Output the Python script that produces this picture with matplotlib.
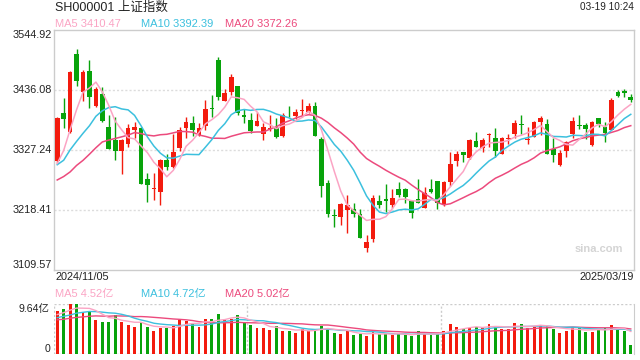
import numpy as np
import pandas as pd
import matplotlib
matplotlib.use('Agg')
import matplotlib.pyplot as plt

# 上证指数 日K 2024/11/05 - 2025/03/19
open_ = [3307.8, 3394.9, 3360.4, 3501.4, 3433.0, 3470.5, 3407.1, 3428.8, 3368.9, 3345.3,
         3325.9, 3338.1, 3364.0, 3367.1, 3274.6, 3256.5, 3251.6, 3309.1, 3295.8, 3330.3,
         3367.7, 3376.2, 3354.4, 3371.3, 3403.9, 3490.5, 3416.7, 3433.0, 3443.3, 3390.1,
         3381.7, 3370.7, 3356.2, 3365.3, 3368.4, 3353.1, 3394.9, 3388.9, 3398.5, 3396.7,
         3407.1, 3347.7, 3266.8, 3209.3, 3205.1, 3218.4, 3219.6, 3211.1, 3150.0, 3165.8,
         3234.7, 3237.8, 3228.0, 3255.9, 3256.5, 3234.7, 3237.8, 3222.5, 3256.5, 3271.0,
         3227.4, 3269.7, 3307.8, 3323.6, 3312.7, 3343.5, 3330.3, 3355.0, 3348.4, 3320.5,
         3347.2, 3356.8, 3373.8, 3345.3, 3350.2, 3378.0, 3374.4, 3328.5, 3300.0, 3325.9,
         3356.2, 3372.5, 3372.5, 3336.3, 3384.7, 3369.5, 3363.5, 3431.9, 3434.8, 3423.9]
high = [3387.0, 3421.0, 3470.5, 3510.4, 3472.3, 3489.9, 3442.0, 3441.0, 3390.7, 3386.5,
        3346.6, 3374.9, 3378.5, 3369.5, 3284.9, 3284.9, 3310.3, 3319.4, 3356.2, 3368.4,
        3386.5, 3388.9, 3376.7, 3417.9, 3426.4, 3495.4, 3437.3, 3465.1, 3443.3, 3402.1,
        3394.9, 3396.7, 3375.6, 3390.7, 3384.7, 3394.9, 3406.5, 3402.1, 3419.2, 3413.0,
        3414.3, 3351.3, 3272.8, 3219.6, 3230.5, 3245.6, 3230.5, 3219.6, 3173.0, 3245.6,
        3245.6, 3265.5, 3255.9, 3269.2, 3258.8, 3234.7, 3274.0, 3260.6, 3274.6, 3271.0,
        3271.0, 3324.1, 3325.4, 3323.6, 3347.7, 3359.9, 3349.0, 3357.5, 3366.6, 3351.3,
        3355.7, 3381.7, 3390.7, 3368.4, 3380.4, 3388.9, 3383.4, 3348.4, 3327.2, 3343.5,
        3386.5, 3390.7, 3375.6, 3379.8, 3384.7, 3378.5, 3421.0, 3436.0, 3437.3, 3428.2]
low = [3304.2, 3367.7, 3357.5, 3443.9, 3416.7, 3402.9, 3404.7, 3377.5, 3329.6, 3309.1,
       3283.7, 3333.2, 3348.4, 3266.1, 3232.9, 3236.5, 3227.4, 3290.9, 3294.0, 3325.9,
       3349.5, 3353.1, 3352.6, 3363.5, 3386.5, 3417.9, 3416.7, 3427.0, 3390.7, 3376.7,
       3358.6, 3370.7, 3345.3, 3361.7, 3348.4, 3351.3, 3386.5, 3382.9, 3386.5, 3394.9,
       3352.6, 3242.5, 3206.2, 3187.0, 3191.1, 3176.1, 3206.2, 3168.1, 3141.6, 3159.8,
       3221.4, 3215.3, 3221.4, 3242.5, 3230.5, 3203.3, 3230.5, 3222.5, 3248.7, 3220.2,
       3226.2, 3262.4, 3298.7, 3304.9, 3311.4, 3333.2, 3323.0, 3333.2, 3314.0, 3320.5,
       3338.1, 3348.4, 3356.2, 3338.1, 3350.2, 3354.4, 3319.9, 3304.9, 3298.2, 3314.0,
       3349.0, 3364.7, 3347.2, 3335.0, 3369.5, 3341.2, 3363.5, 3422.8, 3424.0, 3414.8]
close = [3385.8, 3384.0, 3468.7, 3452.9, 3468.7, 3423.9, 3437.9, 3380.4, 3329.6, 3325.9,
         3345.3, 3367.1, 3368.9, 3266.1, 3264.3, 3258.3, 3309.1, 3295.8, 3323.6, 3363.5,
         3378.0, 3363.5, 3366.6, 3401.6, 3402.1, 3423.9, 3430.6, 3459.6, 3393.8, 3387.6,
         3362.2, 3379.8, 3368.4, 3368.0, 3351.3, 3390.1, 3393.8, 3396.7, 3399.8, 3407.1,
         3352.6, 3262.4, 3211.6, 3207.5, 3229.2, 3227.4, 3211.6, 3168.1, 3160.9, 3239.6,
         3228.0, 3235.2, 3239.6, 3245.6, 3242.5, 3213.5, 3231.6, 3249.2, 3251.6, 3231.6,
         3268.6, 3301.8, 3319.9, 3318.7, 3345.3, 3333.2, 3345.3, 3356.2, 3324.8, 3348.4,
         3348.4, 3375.6, 3372.5, 3347.2, 3378.0, 3385.8, 3319.9, 3318.1, 3321.2, 3341.2,
         3380.4, 3371.3, 3365.8, 3378.0, 3373.8, 3358.6, 3417.9, 3425.7, 3430.1, 3417.9]
# 之前19个交易日的收盘价, 只用来算均线
prev_close = [3258.9, 3301.9, 3217.7, 3284.3, 3201.3, 3203.0, 3169.4, 3261.6, 3268.1, 3285.9,
              3302.8, 3280.3, 3299.7, 3322.2, 3286.4, 3266.2, 3279.8, 3272.0, 3310.2]

# 成交量 (亿)
volume = [8.21, 8.73, 9.64, 9.57, 8.02, 8.02, 6.60, 6.21, 6.21, 7.44,
          6.08, 5.63, 5.24, 6.21, 5.24, 4.46, 5.04, 5.04, 5.43, 6.60,
          6.40, 5.95, 5.24, 6.79, 6.79, 7.76, 6.60, 6.79, 7.57, 6.08,
          5.63, 5.04, 5.04, 4.66, 5.43, 4.46, 4.46, 4.07, 4.85, 4.46,
          4.85, 5.43, 4.98, 4.07, 3.88, 4.46, 3.69, 3.88, 3.49, 4.27,
          3.88, 3.88, 3.69, 3.88, 3.69, 3.49, 4.46, 3.88, 3.69, 3.88,
          4.46, 5.82, 5.24, 4.85, 5.04, 5.24, 5.24, 5.82, 5.24, 4.85,
          4.85, 6.01, 5.82, 5.04, 5.24, 5.63, 5.43, 4.85, 4.07, 4.46,
          5.24, 5.04, 4.27, 4.27, 4.66, 5.04, 5.63, 4.85, 4.46, 1.75]
prev_volume = [6.9, 5.5, 6.4, 6.0, 5.6, 5.3, 7.0, 6.5, 6.2, 6.6,
               6.0, 7.3, 5.9, 6.4, 6.4, 6.9, 7.2, 7.6, 8.1]

price_labels = [3109.57, 3218.41, 3327.24, 3436.08, 3544.92]
vol_max = 9.64

RED = '#f31b0e'
GREEN = '#08a30b'
C_MA5 = '#fba4c4'
C_MA10 = '#3cc0de'
C_MA20 = '#ec4a7d'

plt.rcParams['font.family'] = ['Liberation Sans', 'Noto Sans CJK SC', 'DejaVu Sans']


def ma(prev, data, n):
    s = pd.Series(list(prev) + list(data)).rolling(n).mean().values
    return s[len(prev):]


def px(x, y):
    return x / 640, 1 - y / 360


n = len(close)
x = np.arange(n)
o = np.array(open_)
c = np.array(close)
colors = [RED if c[i] >= o[i] else GREEN for i in range(n)]

fig = plt.figure(figsize=(6.4, 3.6), dpi=100)

# K线
ax = fig.add_axes([54 / 640, 1 - 270 / 360, 580 / 640, 240 / 360])
ax.set_xlim(-0.5, n - 0.5)
ax.set_ylim(price_labels[0], price_labels[-1])
for v in price_labels[1:-1]:
    ax.axhline(v, color='#dcdcdc', lw=1, ls=(0, (1.5, 1.5)), zorder=0)
ax.vlines(x, low, high, colors=colors, lw=1, zorder=2)
body = np.maximum(np.abs(c - o), 1.4)
ax.bar(x, body, bottom=np.minimum(o, c), width=0.74, color=colors, lw=0, zorder=3)
ax.plot(x, ma(prev_close, close, 20), color=C_MA20, lw=1.1, zorder=4)
ax.plot(x, ma(prev_close, close, 10), color=C_MA10, lw=1.1, zorder=4)
ax.plot(x, ma(prev_close, close, 5), color=C_MA5, lw=1.1, zorder=4)
ax.set_xticks([])
ax.set_yticks([])
for s in ax.spines.values():
    s.set_color('#cccccc')
    s.set_linewidth(1)

tr = ax.get_yaxis_transform()
for i, v in enumerate(price_labels):
    va = 'top' if i == len(price_labels) - 1 else ('bottom' if i == 0 else 'center')
    ax.text(-0.004, v, f'{v:.2f}', transform=tr, ha='right', va=va,
            fontsize=7.8, color='#222222')

# 成交量
vax = fig.add_axes([54 / 640, 1 - 354 / 360, 580 / 640, 50 / 360])
vax.set_xlim(-0.5, n - 0.5)
vax.set_ylim(0, vol_max)
vax.bar(x, volume, width=0.46, color=colors, lw=0, zorder=2)
vax.plot(x, ma(prev_volume, volume, 20), color=C_MA20, lw=1, zorder=3)
vax.plot(x, ma(prev_volume, volume, 10), color=C_MA10, lw=1, zorder=3)
vax.plot(x, ma(prev_volume, volume, 5), color=C_MA5, lw=1, zorder=3)
vax.set_xticks([])
vax.set_yticks([])
for k in ['top', 'left', 'bottom']:
    vax.spines[k].set_visible(False)
vax.spines['right'].set_color('#cccccc')
dot = dict(color='#cccccc', lw=1, ls=(0, (1.5, 1.5)), zorder=1)
vax.axhline(vol_max, **dot)
vax.axhline(0, **dot)
vax.axvline(-0.5, **dot)
for f in (1 / 3, 2 / 3):
    vax.axvline(-0.5 + f * n, **dot)

vtr = vax.get_yaxis_transform()
vax.text(-0.007, vol_max, '9.64亿', transform=vtr, ha='right', va='top',
         fontsize=7.6, color='#222222')
vax.text(-0.007, 0, '0', transform=vtr, ha='right', va='bottom',
         fontsize=7.6, color='#222222')

# 文字
fig.text(*px(55, 8), 'SH000001 上证指数', fontsize=9, va='center', color='#222222')
fig.text(*px(634, 7.5), '03-19 10:24', fontsize=7.2, ha='right', va='center', color='#222222')
ma_close = [ma(prev_close, close, k)[-1] for k in (5, 10, 20)]
ma_vol = [4.52, 4.72, 5.02]
for xx, name, col, val, vv in zip([55, 140.7, 225.3], ['MA5', 'MA10', 'MA20'],
                                  [C_MA5, C_MA10, C_MA20], [3410.47, 3392.39, 3372.26], ma_vol):
    fig.text(*px(xx, 24), f'{name} {val:.2f}', fontsize=8, va='center', color=col)
    fig.text(*px(xx, 294), f'{name} {vv:.2f}亿', fontsize=8, va='center', color=col)
fig.text(*px(55, 277.5), '2024/11/05', fontsize=7.8, va='center', color='#222222')
fig.text(*px(634, 277.5), '2025/03/19', fontsize=7.8, ha='right', va='center', color='#222222')
fig.text(*px(623, 249), 'sina.com', fontsize=8, ha='right', va='center', color='#d4d4d4',
         fontweight='bold')

fig.savefig('out.png', dpi=100)
